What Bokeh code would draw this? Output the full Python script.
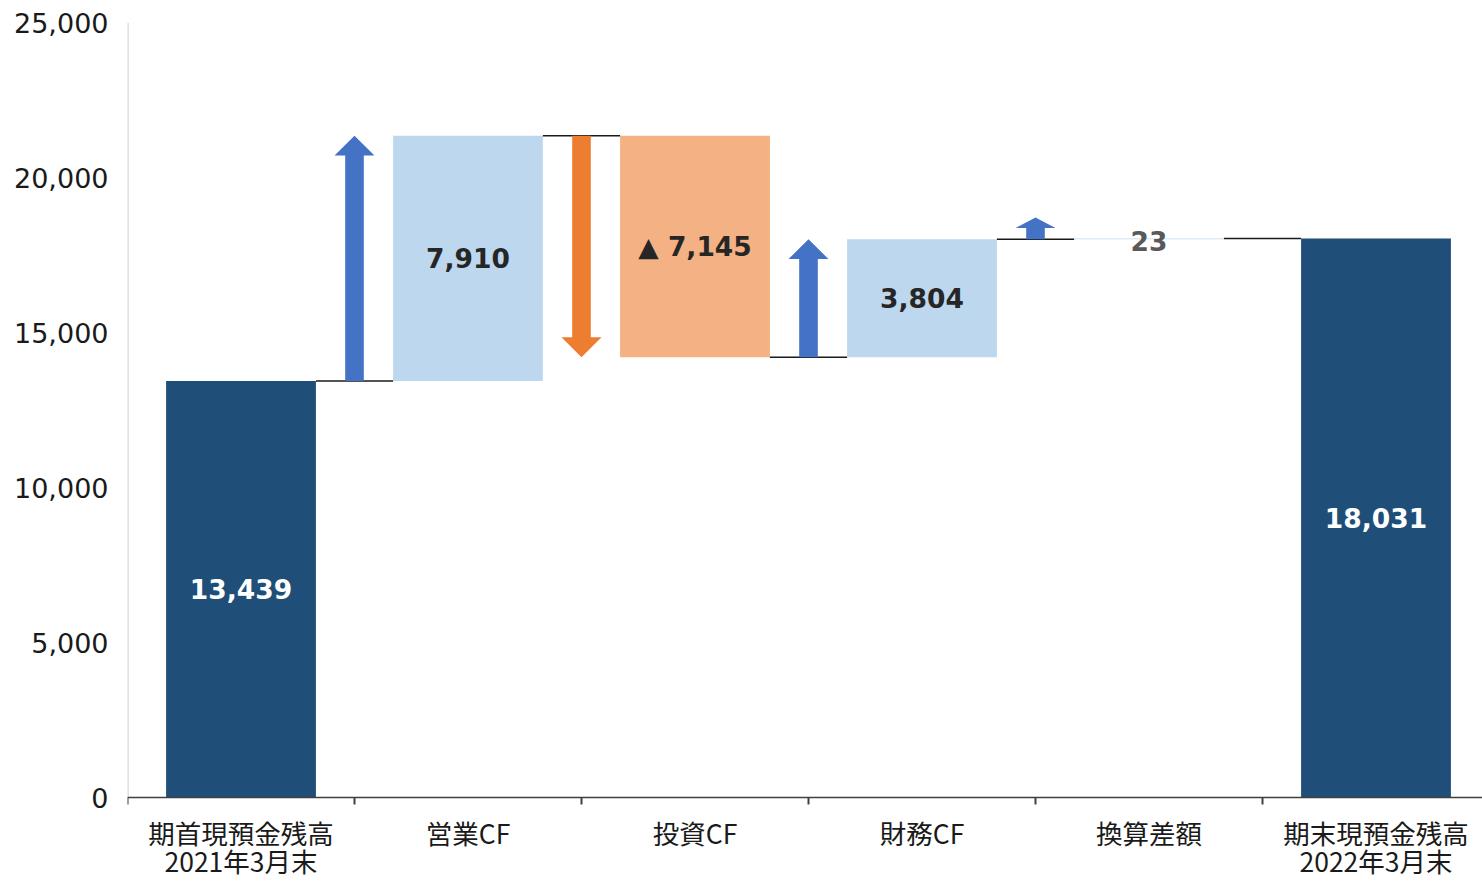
from bokeh.plotting import figure
from bokeh.models import FixedTicker, NumeralTickFormatter, ColumnDataSource, Range1d
from bokeh.core.properties import value
from bokeh.embed import file_html
from bokeh.resources import INLINE

# ---------------- data ----------------
categories_line1 = ["期首現預金残高", "営業CF", "投資CF", "財務CF", "換算差額", "期末現預金残高"]
categories_line2 = ["2021年3月末", "", "", "", "", "2022年3月末"]
start_balance = 13439
changes = [7910, -7145, 3804, 23]
end_balance = 18031
y_ticks = [0, 5000, 10000, 15000, 20000, 25000]

# ---------------- styles ----------------
C_TOTAL = "#1F4E79"
C_POS_BOX = "#BDD7EE"
C_NEG_BOX = "#F4B183"
C_POS_ARROW = "#4472C4"
C_NEG_ARROW = "#ED7D31"
C_AXIS = "#404040"
BAR_W = 0.66
SHAFT_W = 0.082
HEAD_W = 0.176
HEAD_LEN = 640
MIN_ARROW = 700
N = len(categories_line1)

Y_MAX = 25000
PLOT_PX = 775                 # pixel height of the 0..25000 value area
PX = Y_MAX / PLOT_PX          # data units per pixel
BELOW_PX = 84                 # room under the zero line for the category labels

levels = [start_balance]
for c in changes:
    levels.append(levels[-1] + c)

p = figure(width=1482, height=881,
           x_range=Range1d(0, 1355 / 227), y_range=Range1d(-BELOW_PX * PX, Y_MAX),
           output_backend="svg", toolbar_location=None,
           min_border_left=127, min_border_right=0,
           min_border_top=22, min_border_bottom=0)
p.outline_line_color = None
p.xgrid.visible = False
p.ygrid.visible = False
p.xaxis.visible = False

# totals
tot = ColumnDataSource(dict(x=[0.5, N - 0.5], top=[start_balance, end_balance], bottom=[0, 0]))
p.vbar(x="x", top="top", bottom="bottom", width=BAR_W, source=tot, fill_color=C_TOTAL, line_color=None)

# change boxes
cx = [i + 1.5 for i in range(len(changes))]
ctop = [max(levels[i], levels[i + 1]) for i in range(len(changes))]
cbot = [min(levels[i], levels[i + 1]) for i in range(len(changes))]
ccol = [C_POS_BOX if c >= 0 else C_NEG_BOX for c in changes]
chg = ColumnDataSource(dict(x=cx, top=ctop, bottom=cbot, color=ccol))
p.vbar(x="x", top="top", bottom="bottom", width=BAR_W, source=chg, fill_color="color", line_color=None)

# connectors (level after each category, before the final total)
seg_x0 = [i + 0.5 + BAR_W / 2 for i in range(len(levels))]
seg_x1 = [i + 1.5 - BAR_W / 2 for i in range(len(levels))]
p.segment(x0=seg_x0, x1=seg_x1, y0=levels, y1=levels, line_color="#1a1a1a", line_width=1.5)

# arrows at category boundaries
xs, ys, acol = [], [], []
for i, c in enumerate(changes):
    bx = i + 1
    y0 = levels[i]
    length = max(abs(c), MIN_ARROW)
    d = 1 if c >= 0 else -1
    y1 = y0 + d * length
    hl = min(HEAD_LEN, 0.48 * length)
    yh = y1 - d * hl
    xs.append([bx - SHAFT_W / 2, bx - SHAFT_W / 2, bx - HEAD_W / 2, bx, bx + HEAD_W / 2, bx + SHAFT_W / 2, bx + SHAFT_W / 2])
    ys.append([y0, yh, yh, y1, yh, yh, y0])
    acol.append(C_POS_ARROW if c >= 0 else C_NEG_ARROW)
p.patches(xs, ys, fill_color=acol, line_color=None)

# value labels
def fmt(v):
    return ("▲ " if v < 0 else "") + f"{abs(v):,}"

lab_x = [0.5] + cx + [N - 0.5]
lab_y = [start_balance / 2] + [(t + b) / 2 for t, b in zip(ctop, cbot)] + [end_balance / 2]
lab_y[4] = lab_y[4] - 60
lab_t = [fmt(start_balance)] + [fmt(c) for c in changes] + [fmt(end_balance)]
lab_c = ["white", "#262626", "#262626", "#262626", "#595959", "white"]
lab = ColumnDataSource(dict(x=lab_x, y=lab_y, text=lab_t, color=lab_c))
p.text(x="x", y="y", text="text", source=lab, text_color="color",
       text_align="center", text_baseline="middle",
       text_font=value("DejaVu Sans"), text_font_style="bold", text_font_size="26.5px")

# y axis (numeric labels from Bokeh's axis; its line drawn only over 0..25000)
p.yaxis.ticker = FixedTicker(ticks=y_ticks)
p.yaxis.formatter = NumeralTickFormatter(format="0,0")
p.yaxis.axis_line_color = None
p.yaxis.major_tick_line_color = None
p.yaxis.minor_tick_line_color = None
p.yaxis.major_label_standoff = 13
p.yaxis.major_label_text_font = "DejaVu Sans"
p.yaxis.major_label_text_font_size = "27px"
p.yaxis.major_label_text_color = "#1a1a1a"
p.segment(x0=[0], x1=[0], y0=[0], y1=[Y_MAX], line_color="#D9D9D9", line_width=2.5)

# category axis: baseline, boundary ticks and two-line labels
x_end = 1355 / 227
p.segment(x0=[0], x1=[x_end], y0=[0], y1=[0], line_color=C_AXIS, line_width=1.5)
bounds = list(range(N + 1))
p.segment(x0=bounds, x1=bounds, y0=[0] * len(bounds), y1=[-7 * PX] * len(bounds),
          line_color=C_AXIS, line_width=2)
centers = [i + 0.5 for i in range(N)]
cat = ColumnDataSource(dict(x=centers + centers,
                            y=[-35 * PX] * N + [-63 * PX] * N,
                            text=categories_line1 + categories_line2))
p.text(x="x", y="y", text="text", source=cat, text_color="#1a1a1a",
       text_align="center", text_baseline="middle",
       text_font=value("Noto Sans CJK JP"), text_font_size="26.5px")

open("out.html", "w").write(file_html(p, INLINE))
